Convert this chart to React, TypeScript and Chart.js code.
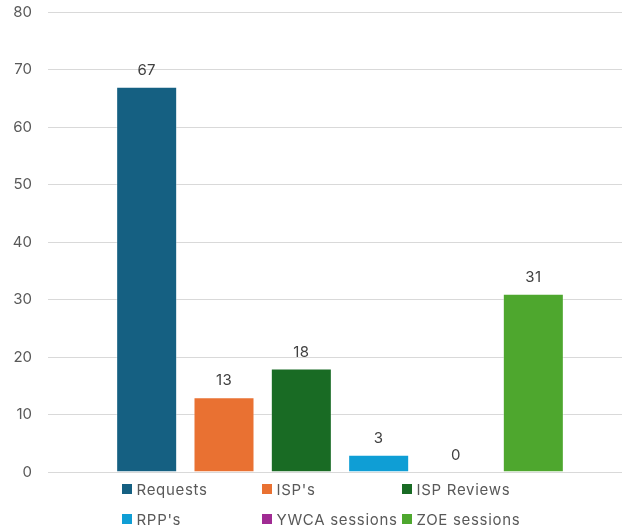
import React, { useEffect, useRef } from "react";
import { Chart, registerables } from "chart.js";

Chart.register(...registerables);

const seriesNames = ["Requests", "ISP's", "ISP Reviews", "RPP's", "YWCA sessions", "ZOE sessions"];
const seriesValues = [67, 13, 18, 3, 0, 31];
const seriesColors = ["#156082", "#E97132", "#196B24", "#0F9ED5", "#A02B93", "#4EA72E"];
const categories = [""];
const yTicks = [0, 10, 20, 30, 40, 50, 60, 70, 80];

const FONT = "Inter, 'Open Sans', sans-serif";

const valueLabels = {
  id: "valueLabels",
  afterDatasetsDraw(chart: any) {
    const ctx = chart.ctx;
    ctx.save();
    ctx.font = `15px ${FONT}`;
    (ctx as any).letterSpacing = "0.4px";
    ctx.fillStyle = "#404040";
    ctx.textAlign = "center";
    ctx.textBaseline = "bottom";
    chart.data.datasets.forEach((ds: any, i: number) => {
      const meta = chart.getDatasetMeta(i);
      meta.data.forEach((el: any, j: number) => {
        ctx.fillText(String(ds.data[j]), el.x, el.y - 9);
      });
    });
    ctx.restore();
  },
};

const gridLegend = {
  id: "gridLegend",
  afterDraw(chart: any) {
    const ctx = chart.ctx;
    const rows = [489, 519];
    const cols = [
      [122, 262, 402],
      [122, 262, 402],
    ];
    ctx.save();
    ctx.font = `15px ${FONT}`;
    (ctx as any).letterSpacing = "0.7px";
    ctx.textBaseline = "middle";
    ctx.textAlign = "left";
    chart.data.datasets.forEach((ds: any, i: number) => {
      const r = Math.floor(i / 3);
      const c = i % 3;
      const x = cols[r][c];
      const y = rows[r];
      ctx.fillStyle = ds.backgroundColor;
      ctx.fillRect(x, y - 5, 10, 10);
      ctx.fillStyle = "#595959";
      ctx.fillText(ds.label, x + 14.5, y + 1);
    });
    ctx.restore();
  },
};

export default function App() {
  const ref = useRef<HTMLCanvasElement>(null);
  useEffect(() => {
    if (!ref.current) return;
    const chart = new Chart(ref.current, {
      type: "bar",
      data: {
        labels: categories,
        datasets: seriesNames.map((name, i) => ({
          label: name,
          data: [seriesValues[i]],
          backgroundColor: seriesColors[i],
          borderColor: "rgba(255,255,255,0.35)",
          borderWidth: 1,
          categoryPercentage: 0.7945,
          barPercentage: 0.789,
        })),
      },
      options: {
        animation: false,
        responsive: false,
        devicePixelRatio: 1,
        layout: { padding: { left: 0, right: 8, top: 12, bottom: 57 } },
        plugins: {
          legend: { display: false },
          tooltip: { enabled: false },
        },
        scales: {
          x: {
            type: "category",
            display: false,
            offset: true,
          },
          y: {
            min: 0,
            max: 80,
            afterBuildTicks(scale: any) {
              scale.ticks = yTicks.map((v) => ({ value: v }));
            },
            afterFit(scale: any) {
              scale.width = 48;
              scale.paddingTop = 0;
              scale.paddingBottom = 0;
            },
            ticks: {
              color: "#595959",
              font: { family: FONT, size: 15 },
              padding: 16,
            },
            grid: { color: "#d9d9d9", drawTicks: false, lineWidth: 1 },
            border: { display: false },
          },
        },
      },
      plugins: [valueLabels, gridLegend],
    });
    return () => chart.destroy();
  }, []);
  return (
    <div style={{ position: "fixed", left: 0, top: 0, width: 622, height: 529, overflow: "hidden", background: "#fff" }}>
      <canvas ref={ref} width={640} height={529} style={{ display: "block" }} />
    </div>
  );
}
